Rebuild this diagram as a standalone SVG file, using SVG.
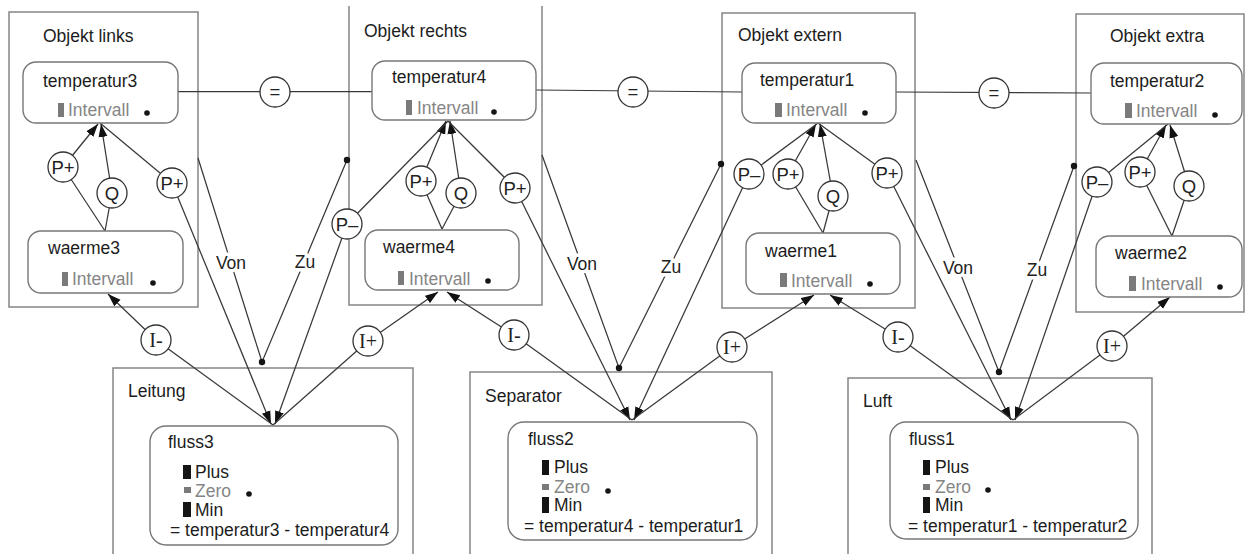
<svg xmlns="http://www.w3.org/2000/svg" width="1246" height="554" viewBox="0 0 1246 554">
<style>
.box{fill:none;stroke:#858585;stroke-width:1.5}
.node{fill:#fff;stroke:#777;stroke-width:1.4}
.t{font-family:"Liberation Sans",Arial,Helvetica,sans-serif;font-size:17.5px;fill:#1c1c1c}
.g{fill:#858585}
.bar{fill:#7a7a7a}
.bk{fill:#151515}
.dot{fill:#151515}
.ln{stroke:#383838;stroke-width:1.25;fill:none}
.c{fill:#fff;stroke:#333;stroke-width:1.3}
.cl{font-family:"Liberation Sans",Arial,sans-serif;font-size:18.5px;fill:#222;text-anchor:middle}
.cs{font-family:"Liberation Serif","Times New Roman",serif;font-size:20px;fill:#222;text-anchor:middle}
.lab{font-family:"Liberation Sans",Arial,sans-serif;font-size:17.5px;fill:#222;text-anchor:middle;stroke:#fff;stroke-width:7;paint-order:stroke;stroke-linejoin:round}
</style>
<defs>
<marker id="ah" markerUnits="userSpaceOnUse" markerWidth="13" markerHeight="10" refX="13" refY="4.5" orient="auto" viewBox="0 0 13 9">
<path d="M0,0 L13,4.5 L0,9 z" fill="#111"/>
</marker>
</defs>
<rect width="1246" height="554" fill="#fff"/>

<!-- containers -->
<g id="objekt-links">
<rect class="box" x="9" y="12" width="189" height="295"/>
<text class="t" x="43" y="42">Objekt links</text>
</g>
<g id="objekt-rechts">
<path class="box" d="M349,6 V305 H542 V6"/>
<text class="t" x="364" y="37">Objekt rechts</text>
</g>
<g id="objekt-extern">
<rect class="box" x="722" y="13" width="193" height="295"/>
<text class="t" x="738" y="41">Objekt extern</text>
</g>
<g id="objekt-extra">
<rect class="box" x="1076" y="14" width="168" height="298"/>
<text class="t" x="1110" y="42">Objekt extra</text>
</g>
<g id="leitung">
<rect class="box" x="113" y="368" width="300" height="200"/>
<text class="t" x="128" y="397">Leitung</text>
</g>
<g id="separator">
<rect class="box" x="470" y="372" width="302" height="200"/>
<text class="t" x="485" y="402">Separator</text>
</g>
<g id="luft">
<rect class="box" x="848" y="378" width="304" height="200"/>
<text class="t" x="863" y="407">Luft</text>
</g>

<!-- connectors -->
<g id="connectors">
<path class="ln" d="M178,91.5 H372"/>
<path class="ln" d="M536,90 L742,92"/>
<path class="ln" d="M896,92 L1091,93"/>

<!-- temperatur3 cluster -->
<path class="ln" d="M105,231 L63,167"/>
<path class="ln" d="M63,167 L98,124" marker-end="url(#ah)"/>
<path class="ln" d="M105,231 L112,193"/>
<path class="ln" d="M112,193 L101,124" marker-end="url(#ah)"/>
<path class="ln" d="M100,123 L172,183"/>
<path class="ln" d="M172,183 L271,424" marker-end="url(#ah)"/>
<path class="ln" d="M273,425 L156,340"/>
<path class="ln" d="M156,340 L108,294" marker-end="url(#ah)"/>

<!-- temperatur4 cluster -->
<path class="ln" d="M442,229 L421,181"/>
<path class="ln" d="M421,181 L446,121" marker-end="url(#ah)"/>
<path class="ln" d="M442,229 L461,193"/>
<path class="ln" d="M461,193 L450,121" marker-end="url(#ah)"/>
<path class="ln" d="M448,121 L515,188"/>
<path class="ln" d="M515,188 L630,420" marker-end="url(#ah)"/>
<path class="ln" d="M448,121 L347,224"/>
<path class="ln" d="M347,224 L275,424" marker-end="url(#ah)"/>
<path class="ln" d="M273,425 L368,341"/>
<path class="ln" d="M368,341 L438,292" marker-end="url(#ah)"/>
<path class="ln" d="M632,420 L514,335"/>
<path class="ln" d="M514,335 L447,292" marker-end="url(#ah)"/>

<!-- temperatur1 cluster -->
<path class="ln" d="M823,233 L788,174"/>
<path class="ln" d="M788,174 L816,124" marker-end="url(#ah)"/>
<path class="ln" d="M823,233 L833,196"/>
<path class="ln" d="M833,196 L820,124" marker-end="url(#ah)"/>
<path class="ln" d="M818,123 L749,174"/>
<path class="ln" d="M749,174 L634,420" marker-end="url(#ah)"/>
<path class="ln" d="M818,123 L887,173"/>
<path class="ln" d="M887,173 L1011,420" marker-end="url(#ah)"/>
<path class="ln" d="M632,420 L732,347"/>
<path class="ln" d="M732,347 L814,295" marker-end="url(#ah)"/>
<path class="ln" d="M1013,420 L898,337"/>
<path class="ln" d="M898,337 L830,295" marker-end="url(#ah)"/>

<!-- temperatur2 cluster -->
<path class="ln" d="M1172,236 L1140,172"/>
<path class="ln" d="M1140,172 L1166,125" marker-end="url(#ah)"/>
<path class="ln" d="M1172,236 L1189,186"/>
<path class="ln" d="M1189,186 L1170,125" marker-end="url(#ah)"/>
<path class="ln" d="M1168,124 L1097,182"/>
<path class="ln" d="M1097,182 L1015,420" marker-end="url(#ah)"/>
<path class="ln" d="M1013,420 L1112,346"/>
<path class="ln" d="M1112,346 L1170,297" marker-end="url(#ah)"/>

<!-- Von / Zu -->
<path class="ln" d="M198,158 L262,362 L347,160"/>
<circle class="dot" cx="262" cy="362" r="3.2"/>
<circle class="dot" cx="347" cy="160" r="3.2"/>
<text class="lab" x="231" y="269">Von</text>
<text class="lab" x="305" y="268">Zu</text>

<path class="ln" d="M542,155 L619,368 L721,164"/>
<circle class="dot" cx="619" cy="368" r="3.2"/>
<circle class="dot" cx="721" cy="164" r="3.2"/>
<text class="lab" x="582" y="270">Von</text>
<text class="lab" x="671" y="273">Zu</text>

<path class="ln" d="M916,160 L999,372 L1074,166"/>
<circle class="dot" cx="999" cy="372" r="3.2"/>
<circle class="dot" cx="1074" cy="166" r="3.2"/>
<text class="lab" x="958" y="274">Von</text>
<text class="lab" x="1037" y="276">Zu</text>
</g>

<!-- quantity nodes -->
<g id="temperatur3">
<rect class="node" x="23" y="62" width="155" height="61" rx="13"/>
<text class="t" x="43" y="87">temperatur3</text>
<rect class="bar" x="58" y="103" width="6" height="14"/>
<text class="t g" x="68" y="116">Intervall</text>
<circle class="dot" cx="147" cy="113" r="2.8"/>
</g>
<g id="waerme3">
<rect class="node" x="28" y="231" width="155" height="62" rx="13"/>
<text class="t" x="48" y="254">waerme3</text>
<rect class="bar" x="62" y="272" width="6" height="14"/>
<text class="t g" x="72" y="285">Intervall</text>
<circle class="dot" cx="153" cy="283" r="2.8"/>
</g>
<g id="temperatur4">
<rect class="node" x="372" y="61" width="164" height="59" rx="13"/>
<text class="t" x="392" y="83">temperatur4</text>
<rect class="bar" x="406" y="100" width="6" height="15"/>
<text class="t g" x="417" y="114">Intervall</text>
<circle class="dot" cx="494" cy="112" r="2.8"/>
</g>
<g id="waerme4">
<rect class="node" x="365" y="230" width="154" height="60" rx="13"/>
<text class="t" x="383" y="253">waerme4</text>
<rect class="bar" x="398" y="271" width="6" height="14"/>
<text class="t g" x="409" y="285">Intervall</text>
<circle class="dot" cx="488" cy="281" r="2.8"/>
</g>
<g id="temperatur1">
<rect class="node" x="742" y="63" width="154" height="60" rx="13"/>
<text class="t" x="760" y="86">temperatur1</text>
<rect class="bar" x="775" y="103" width="7" height="14"/>
<text class="t g" x="786" y="116">Intervall</text>
<circle class="dot" cx="865" cy="113" r="2.8"/>
</g>
<g id="waerme1">
<rect class="node" x="746" y="233" width="154" height="61" rx="13"/>
<text class="t" x="765" y="257">waerme1</text>
<rect class="bar" x="780" y="273" width="7" height="14"/>
<text class="t g" x="791" y="287">Intervall</text>
<circle class="dot" cx="870" cy="284" r="2.8"/>
</g>
<g id="temperatur2">
<rect class="node" x="1091" y="63" width="151" height="61" rx="13"/>
<text class="t" x="1110" y="87">temperatur2</text>
<rect class="bar" x="1125" y="103" width="7" height="15"/>
<text class="t g" x="1136" y="117">Intervall</text>
<circle class="dot" cx="1215" cy="115" r="2.8"/>
</g>
<g id="waerme2">
<rect class="node" x="1096" y="236" width="146" height="61" rx="13"/>
<text class="t" x="1115" y="259">waerme2</text>
<rect class="bar" x="1129" y="276" width="7" height="15"/>
<text class="t g" x="1141" y="290">Intervall</text>
<circle class="dot" cx="1220" cy="287" r="2.8"/>
</g>

<g id="fluss3">
<rect class="node" x="150" y="426" width="248" height="119" rx="16"/>
<text class="t" x="168" y="448">fluss3</text>
<rect class="bk" x="183" y="465" width="8" height="14"/>
<text class="t" x="195" y="478">Plus</text>
<rect class="bar" x="184" y="487" width="7" height="6"/>
<text class="t g" x="195" y="497">Zero</text>
<circle class="dot" cx="249" cy="494" r="2.8"/>
<rect class="bk" x="183" y="502" width="8" height="15"/>
<text class="t" x="195" y="516">Min</text>
<text class="t" x="170" y="536">= temperatur3 - temperatur4</text>
</g>
<g id="fluss2">
<rect class="node" x="508" y="422" width="249" height="118" rx="16"/>
<text class="t" x="528" y="445">fluss2</text>
<rect class="bk" x="542" y="460" width="7" height="15"/>
<text class="t" x="554" y="473">Plus</text>
<rect class="bar" x="542" y="484" width="7" height="6"/>
<text class="t g" x="554" y="493">Zero</text>
<circle class="dot" cx="608" cy="491" r="2.8"/>
<rect class="bk" x="542" y="497" width="7" height="16"/>
<text class="t" x="554" y="511">Min</text>
<text class="t" x="524" y="532">= temperatur4 - temperatur1</text>
</g>
<g id="fluss1">
<rect class="node" x="890" y="422" width="248" height="117" rx="16"/>
<text class="t" x="909" y="445">fluss1</text>
<rect class="bk" x="923" y="460" width="7" height="15"/>
<text class="t" x="935" y="473">Plus</text>
<rect class="bar" x="923" y="484" width="7" height="6"/>
<text class="t g" x="935" y="493">Zero</text>
<circle class="dot" cx="988" cy="490" r="2.8"/>
<rect class="bk" x="923" y="497" width="7" height="16"/>
<text class="t" x="935" y="511">Min</text>
<text class="t" x="908" y="532">= temperatur1 - temperatur2</text>
</g>

<!-- relation nodes -->
<g id="eq1"><circle class="c" cx="275" cy="92" r="15"/><text class="cl" x="275" y="98">=</text></g>
<g id="eq2"><circle class="c" cx="633" cy="92" r="15"/><text class="cl" x="633" y="98">=</text></g>
<g id="eq3"><circle class="c" cx="994" cy="93" r="15"/><text class="cl" x="994" y="99">=</text></g>

<g id="p3a"><circle class="c" cx="63" cy="167" r="15"/><text class="cl" x="63" y="173.5">P+</text></g>
<g id="q3"><circle class="c" cx="112" cy="193" r="15"/><text class="cl" x="112" y="199.5">Q</text></g>
<g id="p3b"><circle class="c" cx="172" cy="183" r="15"/><text class="cl" x="172" y="189.5">P+</text></g>
<g id="i3m"><circle class="c" cx="156" cy="340" r="15"/><text class="cs" x="156" y="347">I-</text></g>

<g id="p4a"><circle class="c" cx="421" cy="181" r="15"/><text class="cl" x="421" y="187.5">P+</text></g>
<g id="q4"><circle class="c" cx="461" cy="193" r="15"/><text class="cl" x="461" y="199.5">Q</text></g>
<g id="p4b"><circle class="c" cx="515" cy="188" r="15"/><text class="cl" x="515" y="194.5">P+</text></g>
<g id="p4m"><circle class="c" cx="347" cy="224" r="15"/><text class="cl" x="347" y="230.5">P–</text></g>
<g id="i4p"><circle class="c" cx="368" cy="341" r="15"/><text class="cs" x="368" y="348">I+</text></g>
<g id="i2m"><circle class="c" cx="514" cy="335" r="15"/><text class="cs" x="514" y="342">I-</text></g>

<g id="p1m"><circle class="c" cx="749" cy="174" r="15"/><text class="cl" x="749" y="180.5">P–</text></g>
<g id="p1a"><circle class="c" cx="788" cy="174" r="15"/><text class="cl" x="788" y="180.5">P+</text></g>
<g id="q1"><circle class="c" cx="833" cy="196" r="15"/><text class="cl" x="833" y="202.5">Q</text></g>
<g id="p1b"><circle class="c" cx="887" cy="173" r="15"/><text class="cl" x="887" y="179.5">P+</text></g>
<g id="i1p"><circle class="c" cx="732" cy="347" r="15"/><text class="cs" x="732" y="354">I+</text></g>
<g id="i1m"><circle class="c" cx="898" cy="337" r="15"/><text class="cs" x="898" y="344">I-</text></g>

<g id="p2m"><circle class="c" cx="1097" cy="182" r="15"/><text class="cl" x="1097" y="188.5">P–</text></g>
<g id="p2a"><circle class="c" cx="1140" cy="172" r="15"/><text class="cl" x="1140" y="178.5">P+</text></g>
<g id="q2"><circle class="c" cx="1189" cy="186" r="15"/><text class="cl" x="1189" y="192.5">Q</text></g>
<g id="i2p"><circle class="c" cx="1112" cy="346" r="15"/><text class="cs" x="1112" y="353">I+</text></g>
</svg>
